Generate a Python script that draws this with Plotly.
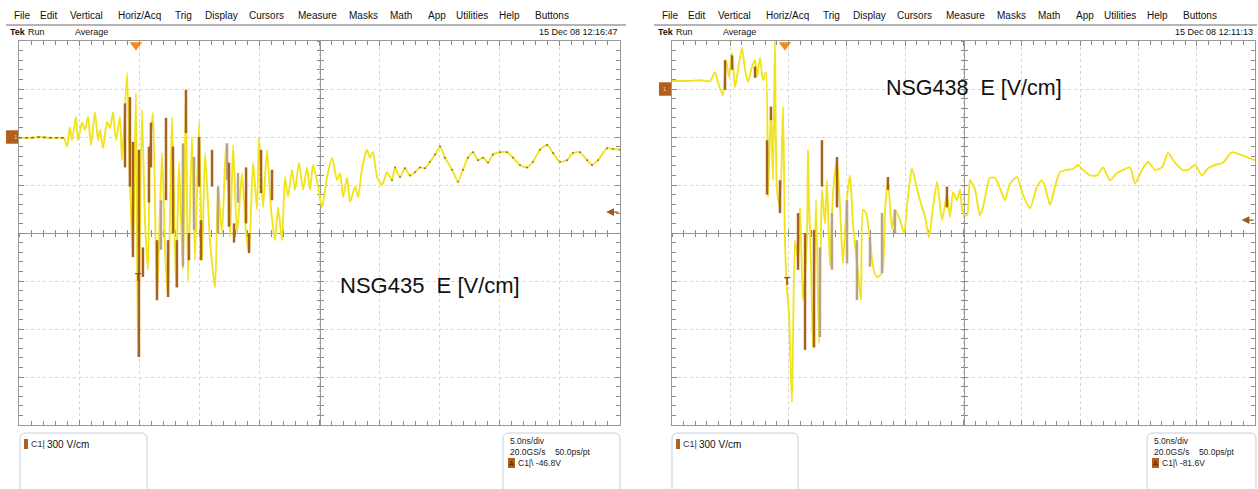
import plotly.graph_objects as go

W, H = 1258, 489
def px(x): return x / W
def py(y): return 1 - y / H

# ---------------- data (time in ns, field in V/cm) ----------------
L_T = [0.0, 0.92, 1.75, 2.58, 3.41, 3.74, 3.99, 4.24, 4.41, 4.74, 4.91, 5.24, 5.49, 5.74, 5.99,
       6.32, 6.57, 6.74, 6.99, 7.32, 7.57, 7.82, 8.07, 8.40, 8.57, 8.99, 9.23, 9.48, 9.73, 9.90,
       10.23, 10.48, 10.73, 10.90, 11.15, 11.48, 11.90, 12.15, 12.40, 12.73, 13.06, 13.31, 13.64,
       13.89, 14.06, 14.39, 14.64, 14.98, 15.23, 15.48, 15.89, 16.31, 16.56, 16.89, 17.22, 17.56,
       17.81, 18.14, 18.55, 18.89, 19.14, 19.47, 19.80, 19.97, 20.30, 20.63, 20.97, 21.30, 21.55,
       21.88, 22.13, 22.38, 22.71, 22.96, 23.30, 23.63, 23.96, 24.21, 24.46, 24.88, 25.21, 25.63,
       26.04, 26.46, 26.71, 26.96, 27.29, 27.54, 27.96, 28.21, 28.54, 28.95, 29.20, 29.45, 29.79,
       30.20, 30.62, 31.03, 31.28, 31.70, 32.11, 32.53, 32.95, 33.36, 33.78, 34.19, 34.61, 35.03,
       35.44, 36.03, 36.52, 36.94, 37.35, 37.77, 38.19, 38.60, 39.02, 39.43, 40.02, 40.60, 41.10,
       41.68, 42.26, 42.76, 43.34, 43.93, 44.43, 45.01, 45.59, 46.09, 46.67, 47.26, 47.67, 48.17,
       48.92, 49.42, 50.0]
L_E = [595, 595, 600, 595, 595, 595, 540, 660, 580, 725, 580, 690, 645, 725, 550,
       755, 580, 645, 530, 695, 655, 755, 580, 725, 455, 1000, 300, -150, 875, -775,
       770, 80, -230, 520, 750, -420, 500, -105, -400, 725, -340, 440, -230,
       895, -295, 600, -170, 690, -170, 500, -45, -340, 290, 0, 560, -25,
       550, 0, 375, 0, -125, 440, 145, 600, 160, 520, 145, -45, 160,
       -45, 350, 225, 395, 270, 440, 270, 410, 270, 425, 290, 160, 350,
       470, 330, 375, 225, 345, 195, 290, 225, 405, 520, 470, 505, 350,
       300, 380, 330, 410, 350, 405, 360, 380, 410, 405, 445, 490, 540,
       470, 395, 320, 395, 470, 505, 455, 470, 440, 490, 505, 505, 470,
       425, 410, 445, 520, 550, 500, 445, 455, 500, 505, 455, 425, 455,
       530, 525, 520]

L_DARK_T = [8.82, 9.23, 9.48, 9.98, 10.31, 10.81, 10.98, 11.48, 12.23, 12.40, 12.81, 13.14,
            13.89, 14.14, 14.98, 15.14, 16.06, 17.47, 17.89, 18.89, 19.14, 20.14, 21.05]
L_DARK_HI = [810, 850, 570, 520, -90, 540, 690, -45, 720, -45, 540, -45,
             895, 0, 600, 80, 520, 440, 60, 410, 0, 520, 395]
L_DARK_LO = [410, 290, -150, -775, -275, 190, 410, -420, 205, -400, 0, -340,
             625, -170, 290, -170, 290, 40, -60, 60, -125, 250, 205]
L_LIGHT_T = [11.81, 13.64, 14.56, 16.56, 17.31, 18.22]
L_LIGHT_HI = [205, 560, 475, 290, 560, 375]
L_LIGHT_LO = [-105, -210, 20, 0, 330, 190]

R_T = [0.0, 0.69, 1.54, 2.40, 3.26, 3.69, 3.95, 4.37, 4.63, 4.89, 5.15, 5.40, 5.66, 6.00, 6.26,
       6.52, 6.86, 7.12, 7.29, 7.55, 7.80, 8.06, 8.23, 8.49, 8.66, 8.83, 9.00, 9.26, 9.52, 9.69,
       9.86, 10.03, 10.29, 10.55, 10.81, 10.98, 11.23, 11.58, 11.66, 11.75, 11.92, 12.09, 12.35,
       12.61, 12.78, 12.86, 13.12, 13.29, 13.55, 13.81, 14.15, 14.41, 14.66, 15.01, 15.27, 15.52,
       15.95, 16.21, 16.38, 16.64, 16.98, 17.24, 17.58, 18.01, 18.27, 18.52, 18.87, 19.12, 19.55,
       19.90, 20.24, 20.58, 20.93, 21.27, 21.70, 22.04, 22.38, 22.73, 23.16, 23.58, 23.84, 24.10,
       24.44, 24.70, 24.95, 25.30, 25.56, 25.99, 26.41, 26.67, 27.27, 27.70, 28.13, 28.56, 28.99,
       29.59, 30.02, 30.70, 31.30, 31.73, 31.99, 32.42, 32.85, 33.28, 33.88, 34.39, 34.82, 35.25,
       35.85, 36.45, 36.96, 37.56, 38.16, 38.68, 39.28, 39.71, 40.31, 40.82, 41.42, 42.02, 42.54,
       43.14, 43.74, 44.25, 44.85, 45.45, 45.97, 46.57, 47.25, 48.03, 48.71, 50.0]
R_E = [950, 950, 950, 955, 950, 1005, 940, 860, 1080, 975, 1125, 910, 1020, 1155, 1020,
       945, 1040, 1080, 975, 1095, 955, 1005, 225, 790, 330, 1200, 270, 160, 790, -45,
       -355, -500, -1060, -45, -170, 160, -420, -25, 520, 205, -190, -715, 205,
       -690, 20, 270, 60, 330, -210, 250, 455, 160, -190, 225, 360, 60,
       -250, -420, 145, 125, -45, -210, -275, -250, 145, 330, 20, 145, 80,
       0, 225, 405, 300, 205, 100, -25, 160, 320, 80, 240, 100, 255,
       205, 270, 125, 110, 330, 270, 110, 160, 345, 345, 280, 205, 310,
       350, 255, 155, 290, 330, 290, 175, 290, 380, 395, 400, 425, 395,
       360, 360, 410, 330, 375, 395, 410, 310, 395, 445, 395, 410, 500,
       440, 395, 395, 425, 360, 405, 425, 440, 505, 490, 455]

R_DARK_T = [4.55, 5.15, 7.12, 8.15, 8.49, 9.26, 10.81, 11.41, 12.18, 12.86, 14.15, 18.52, 23.58]
R_DARK_HI = [1080, 1110, 1040, 580, 790, 330, 125, 0, 20, 580, 475, 350, 290]
R_DARK_LO = [895, 1020, 970, 240, 705, 125, -230, -730, -715, 290, 160, 270, 160]
R_LIGHT_T = [12.69, 13.72, 15.01, 15.86, 16.98, 18.01, 19.12]
R_LIGHT_HI = [-90, 125, 205, -45, -25, 125, 145]
R_LIGHT_LO = [-650, -230, -190, -420, -210, -250, 0]

GROUND = [600, 900]          # channel-1 reference level (V/cm)
TRIG_T = [9.73, 9.69]        # trigger position (ns)
TRIG_LEVEL = [131, 81]       # trigger level marker (V/cm)
T_MARK = [(9.9, -281), (9.86, -300)]

LABELS = ["NSG435  E [V/cm]", "NSG438  E [V/cm]"]
DATES = ["15 Dec 08 12:16:47", "15 Dec 08 12:11:13"]
TRIG_TXT = ["C1|\\ -46.8V", "C1|\\ -81.6V"]
MENU = ["File", "Edit", "Vertical", "Horiz/Acq", "Trig", "Display", "Cursors", "Measure",
        "Masks", "Math", "App", "Utilities", "Help", "Buttons"]
MENU_X = [12, 38, 68, 116, 173, 203, 247, 296, 347, 388, 426, 454, 497, 533]

X_RANGE = [0, 50]
Y_RANGE = [-1200, 1200]

# ---------------- style ----------------
YELLOW = "#f2e41c"
DARK = "#a8621e"
LIGHT = "#b8a388"
GRID = "#d4d4d4"
FRAME = "#989898"
TICK = "#8a8a8a"
FONT = "Liberation Sans, Arial, sans-serif"

PANELS = [dict(x0=19, x1=620), dict(x0=672, x1=1255)]
Y_TOP, Y_BOT = 41, 425

fig = go.Figure()
layout = {}

def bars(ts, hi, lo):
    xs, ys = [], []
    for t, a, b in zip(ts, hi, lo):
        xs += [t, t, None]
        ys += [a, b, None]
    return xs, ys

data_sets = [
    (L_T, L_E, (L_DARK_T, L_DARK_HI, L_DARK_LO), (L_LIGHT_T, L_LIGHT_HI, L_LIGHT_LO)),
    (R_T, R_E, (R_DARK_T, R_DARK_HI, R_DARK_LO), (R_LIGHT_T, R_LIGHT_HI, R_LIGHT_LO)),
]

ydom = [py(Y_BOT), py(Y_TOP)]
ymid = (ydom[0] + ydom[1]) / 2
shapes, annos = [], []

def nm(k):
    return "" if k == 1 else str(k)

def rbox(x0, x1, ytop=433, ybot=495, r=6):
    return (f"M {px(x0)},{py(ybot)} L {px(x0)},{py(ytop + r)} "
            f"Q {px(x0)},{py(ytop)} {px(x0 + r)},{py(ytop)} L {px(x1 - r)},{py(ytop)} "
            f"Q {px(x1)},{py(ytop)} {px(x1)},{py(ytop + r)} L {px(x1)},{py(ybot)}")

def txt(x, y, s, size, color="#111111", anchor="left"):
    annos.append(dict(x=px(x), y=py(y), xref="paper", yref="paper", text=s,
                      xanchor=anchor, yanchor="middle", showarrow=False,
                      font=dict(family=FONT, size=size, color=color)))

for i, p in enumerate(PANELS):
    xdom = [px(p["x0"]), px(p["x1"])]
    xmid = (xdom[0] + xdom[1]) / 2
    ids = [1, 3, 4] if i == 0 else [2, 5, 6]
    b = ids[0]
    layout["xaxis" + nm(b)] = dict(
        domain=xdom, range=X_RANGE, anchor="y" + nm(b), dtick=5, tick0=0,
        showgrid=True, gridcolor=GRID, griddash="dot", gridwidth=1,
        showline=True, linecolor=FRAME, linewidth=1, mirror="ticks",
        ticks="inside", ticklen=5, tickcolor=TICK,
        minor=dict(dtick=1, ticks="inside", ticklen=4, tickcolor=TICK, showgrid=False),
        showticklabels=False, zeroline=False, fixedrange=True, layer="below traces")
    layout["yaxis" + nm(b)] = dict(
        domain=ydom, range=Y_RANGE, anchor="x" + nm(b), dtick=300, tick0=0,
        showgrid=True, gridcolor=GRID, griddash="dot", gridwidth=1,
        showline=True, linecolor=FRAME, linewidth=1, mirror="ticks",
        ticks="inside", ticklen=5, tickcolor=TICK,
        minor=dict(dtick=60, ticks="inside", ticklen=4, tickcolor=TICK, showgrid=False),
        showticklabels=False, zeroline=False, fixedrange=True, layer="below traces")
    for k, side in zip(ids[1:], ["outside", "inside"]):
        layout["xaxis" + nm(k)] = dict(
            domain=xdom, range=X_RANGE, overlaying="x" + nm(b), anchor="free", position=ymid,
            dtick=1, tick0=0, ticks=side, ticklen=3, tickcolor=TICK, showline=True,
            linecolor=FRAME, linewidth=1, showgrid=False, zeroline=False,
            showticklabels=False, fixedrange=True, layer="below traces")
        layout["yaxis" + nm(k)] = dict(
            domain=ydom, range=Y_RANGE, overlaying="y" + nm(b), anchor="free", position=xmid,
            dtick=60, tick0=0, ticks=side, ticklen=3, tickcolor=TICK, showline=True,
            linecolor=FRAME, linewidth=1, showgrid=False, zeroline=False,
            showticklabels=False, fixedrange=True, layer="below traces")
    for k in ids[:2]:
        fig.add_trace(go.Scatter(x=[None], y=[None], xaxis="x" + nm(k), yaxis="y" + nm(k),
                                 showlegend=False, hoverinfo="skip"))
    xa, ya = "x" + nm(ids[2]), "y" + nm(ids[2])
    T, E, dk, lt = data_sets[i]
    fig.add_trace(go.Scatter(x=T, y=E, mode="lines", xaxis=xa, yaxis=ya,
                             line=dict(color=YELLOW, width=1.9, shape="spline", smoothing=0.6),
                             showlegend=False))
    bxs, bys = bars(*lt)
    fig.add_trace(go.Scatter(x=bxs, y=bys, mode="lines", xaxis=xa, yaxis=ya,
                             line=dict(color=LIGHT, width=2.5), showlegend=False))
    bxs, bys = bars(*dk)
    fig.add_trace(go.Scatter(x=bxs, y=bys, mode="lines", xaxis=xa, yaxis=ya,
                             line=dict(color=DARK, width=2.5), showlegend=False))
    if i == 0:
        pre = [(t, e) for t, e in zip(T, E) if t <= 3.8]
        fig.add_trace(go.Scatter(x=[a for a, _ in pre], y=[c for _, c in pre], mode="lines",
                                 xaxis=xa, yaxis=ya,
                                 line=dict(color="#8a6a3a", width=1.4, dash="dot"),
                                 showlegend=False))
        tail = [(t, e) for t, e in zip(T, E) if t >= 31]
        fig.add_trace(go.Scatter(x=[a for a, _ in tail], y=[c for _, c in tail], mode="markers",
                                 xaxis=xa, yaxis=ya, marker=dict(color="#8c7440", size=2),
                                 showlegend=False))
    # trigger position marker at top
    fig.add_trace(go.Scatter(x=[TRIG_T[i]], y=[Y_RANGE[1] - 25], mode="markers", xaxis=xa, yaxis=ya,
                             marker=dict(symbol="triangle-down", size=11, color="#f08a24"),
                             cliponaxis=False, showlegend=False))
    # trigger level arrow on the right
    annos.append(dict(x=X_RANGE[1] - 1.15, y=TRIG_LEVEL[i], xref=xa, yref=ya, ax=X_RANGE[1],
                      ay=TRIG_LEVEL[i], axref=xa, ayref=ya, text="", showarrow=True,
                      arrowhead=2, arrowsize=1.2, arrowwidth=1.3, arrowcolor="#9a5a1c"))
    annos.append(dict(x=T_MARK[i][0], y=T_MARK[i][1], xref=xa, yref=ya, text="<b>T</b>",
                      showarrow=False, font=dict(family=FONT, size=10, color="#8a4a10")))
    # ground marker
    shapes.append(dict(type="rect", xref="paper", yref=ya,
                       x0=px(p["x0"] - 13), x1=px(p["x0"] - 1),
                       y0=GROUND[i] - 42, y1=GROUND[i] + 42,
                       fillcolor="#b0601c", line=dict(width=0), layer="above"))
    annos.append(dict(x=px(p["x0"] - 7), y=GROUND[i], xref="paper", yref=ya, text="1",
                      showarrow=False, font=dict(family=FONT, size=6, color="#e8c8a0")))
    # label
    if i == 0:
        txt(338, 285, LABELS[i], 22)
    else:
        txt(884, 88, LABELS[i], 21.5)
    # header
    off = 0 if i == 0 else 648
    for w, mx in zip(MENU, MENU_X):
        txt(mx + off, 16, w, 10)
    shapes.append(dict(type="line", xref="paper", yref="paper", x0=px(6 + off),
                       x1=px(626 if i == 0 else 1257),
                       y0=py(25), y1=py(25), line=dict(color="#6a6a6a", width=1)))
    txt(8 + off, 32, "<b>Tek</b>", 9)
    txt(26 + off, 32, "Run", 9)
    txt(73 + off, 32, "Average", 9)
    txt(p["x1"], 32, DATES[i], 9, anchor="right")
    # info boxes
    b1 = (20, 147) if i == 0 else (672, 798)
    b2 = (503, 620) if i == 0 else (1147, 1256)
    for bb in (b1, b2):
        shapes.append(dict(type="path", xref="paper", yref="paper", path=rbox(*bb),
                           line=dict(color="#c6cfdc", width=1)))
    shapes.append(dict(type="rect", xref="paper", yref="paper", x0=px(b1[0] + 4), x1=px(b1[0] + 8),
                       y0=py(449), y1=py(439), fillcolor="#b0601c", line=dict(width=0)))
    txt(b1[0] + 9, 444, "C1|", 9, "#333333")
    txt(b1[0] + 25, 444, "300 V/cm", 10)
    txt(b2[0] + 5, 441, "5.0ns/div", 8.5, "#222222")
    txt(b2[0] + 5, 452, "20.0GS/s    50.0ps/pt", 8.5, "#222222")
    shapes.append(dict(type="rect", xref="paper", yref="paper", x0=px(b2[0] + 5), x1=px(b2[0] + 12),
                       y0=py(468), y1=py(458), fillcolor="#b0601c", line=dict(width=0)))
    txt(b2[0] + 8.5, 463, "A", 7, "#3a1a00", anchor="center")
    txt(b2[0] + 13, 463, TRIG_TXT[i], 8.5, "#222222")

fig.update_layout(**layout)
fig.update_layout(width=W, height=H, margin=dict(l=0, r=0, t=0, b=0),
                  paper_bgcolor="white", plot_bgcolor="white",
                  shapes=shapes, annotations=annos, showlegend=False)
fig.write_html("out.html", config={"displayModeBar": False})
